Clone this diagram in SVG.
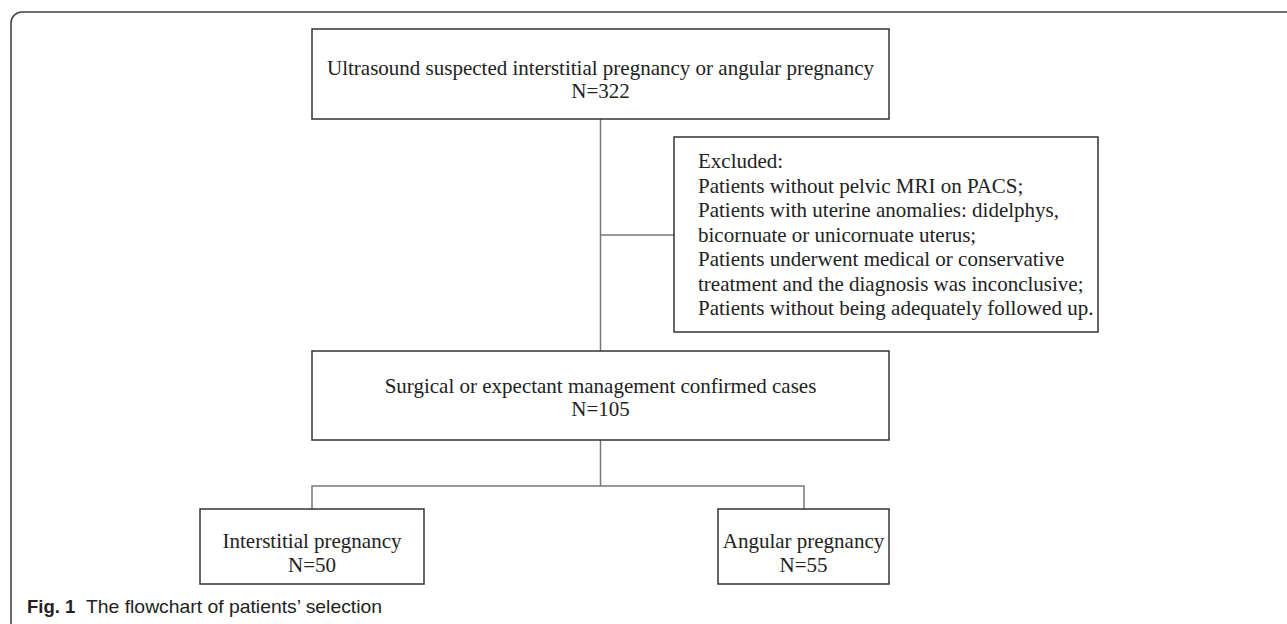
<svg xmlns="http://www.w3.org/2000/svg" width="1287" height="624" viewBox="0 0 1287 624">
<style>
.box{fill:#fff;stroke:#333;stroke-width:1.5}
.conn{fill:none;stroke:#777;stroke-width:1.5}
.t{font-family:"Liberation Serif","Times New Roman",serif;font-size:21px;fill:#222}
.c{text-anchor:middle}
.cap{font-family:"Liberation Sans",Arial,sans-serif;font-size:18.5px;fill:#222}
</style>
<rect width="1287" height="624" fill="#fff"/>
<path d="M11,624 V23 A11,11 0 0 1 22,12 H1287" fill="none" stroke="#444" stroke-width="1.6"/>
<g id="connectors">
<path class="conn" d="M600.5,119 V351"/>
<path class="conn" d="M600.5,235 H674"/>
<path class="conn" d="M600.5,440 V486"/>
<path class="conn" d="M312,509 V486 H804 V509"/>
</g>
<g id="node-ultrasound">
<rect class="box" x="312" y="29" width="577" height="90"/>
<text class="t c" x="600.5" y="75">Ultrasound suspected interstitial pregnancy or angular pregnancy</text>
<text class="t c" x="600.5" y="98">N=322</text>
</g>
<g id="node-excluded">
<rect class="box" x="674" y="137" width="424" height="195"/>
<text class="t" x="698" y="168">Excluded:</text>
<text class="t" x="698" y="192.5">Patients without pelvic MRI on PACS;</text>
<text class="t" x="698" y="217">Patients with uterine anomalies: didelphys,</text>
<text class="t" x="698" y="241.5">bicornuate or unicornuate uterus;</text>
<text class="t" x="698" y="266">Patients underwent medical or conservative</text>
<text class="t" x="698" y="290.5">treatment and the diagnosis was inconclusive;</text>
<text class="t" x="698" y="315">Patients without being adequately followed up.</text>
</g>
<g id="node-confirmed">
<rect class="box" x="312" y="351" width="577" height="89"/>
<text class="t c" x="600.5" y="393">Surgical or expectant management confirmed cases</text>
<text class="t c" x="600.5" y="416">N=105</text>
</g>
<g id="node-interstitial">
<rect class="box" x="200" y="509" width="224" height="75"/>
<text class="t c" x="312" y="548">Interstitial pregnancy</text>
<text class="t c" x="312" y="572">N=50</text>
</g>
<g id="node-angular">
<rect class="box" x="718" y="509" width="171" height="75"/>
<text class="t c" x="803.5" y="548">Angular pregnancy</text>
<text class="t c" x="803.5" y="572">N=55</text>
</g>
<g id="caption">
<text class="cap" x="27" y="613" font-weight="bold">Fig. 1</text>
<text class="cap" x="86" y="613" textLength="296" lengthAdjust="spacingAndGlyphs">The flowchart of patients’ selection</text>
</g>
</svg>
